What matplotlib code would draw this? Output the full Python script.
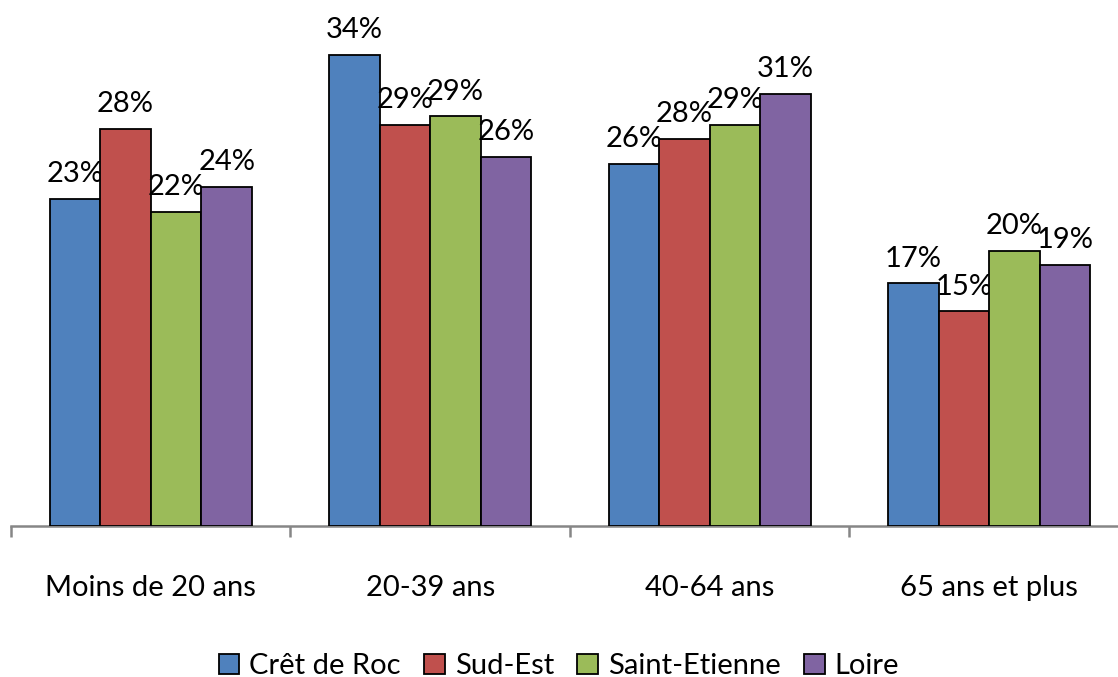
import matplotlib
matplotlib.use("Agg")
import matplotlib.pyplot as plt
import numpy as np

# Age-group distribution by area (%)
categories = ["Moins de 20 ans", "20-39 ans", "40-64 ans", "65 ans et plus"]
series_names = ["Crêt de Roc", "Sud-Est", "Saint-Etienne", "Loire"]
cret_de_roc = [23.3, 33.6, 25.8, 17.3]
sud_est = [28.3, 28.6, 27.6, 15.3]
saint_etienne = [22.4, 29.2, 28.6, 19.6]
loire = [24.2, 26.3, 30.8, 18.6]
colors = ["#4F81BD", "#C0504D", "#9BBB59", "#8064A2"]

plt.rcParams["font.family"] = ["Lato", "DejaVu Sans"]
FS = 21

W, H = 1118, 677
fig = plt.figure(figsize=(W / 100, H / 100), dpi=100)
ax = fig.add_axes([11 / W, 151 / H, 1118 / W, 491 / H])

values = [cret_de_roc, sud_est, saint_etienne, loire]
x = np.arange(len(categories))
bw = 0.181
for i, (name, vals, c) in enumerate(zip(series_names, values, colors)):
    pos = x + (i - 1.5) * bw
    ax.bar(pos, vals, width=bw, color=c, edgecolor="black", linewidth=1.3,
           label=name, zorder=3)
    for px_, v in zip(pos, vals):
        ax.annotate(f"{v:.0f}%", (px_, v), xytext=(0, 12), textcoords="offset points",
                    ha="center", va="baseline", fontsize=FS, annotation_clip=False)

ax.set_xlim(-0.5, 3.5)
ax.set_ylim(0, 35)
for s in ["top", "right", "left"]:
    ax.spines[s].set_visible(False)
ax.spines["bottom"].set_color("#868686")
ax.spines["bottom"].set_linewidth(1.8)
ax.set_yticks([])
ax.set_xticks(x)
ax.set_xticklabels(categories, fontsize=FS)
ax.tick_params(axis="x", which="major", length=0, pad=35)
ax.set_xticks(np.arange(-0.5, 4.0, 1.0), minor=True)
ax.tick_params(axis="x", which="minor", length=8, width=1.8, color="#868686")

fig.legend(loc="center", bbox_to_anchor=(0.5, 11 / H), ncol=4, frameon=False,
           fontsize=FS, handlelength=0.7, handleheight=0.7, handletextpad=0.35,
           columnspacing=0.8)

fig.savefig("out.png", dpi=100)
